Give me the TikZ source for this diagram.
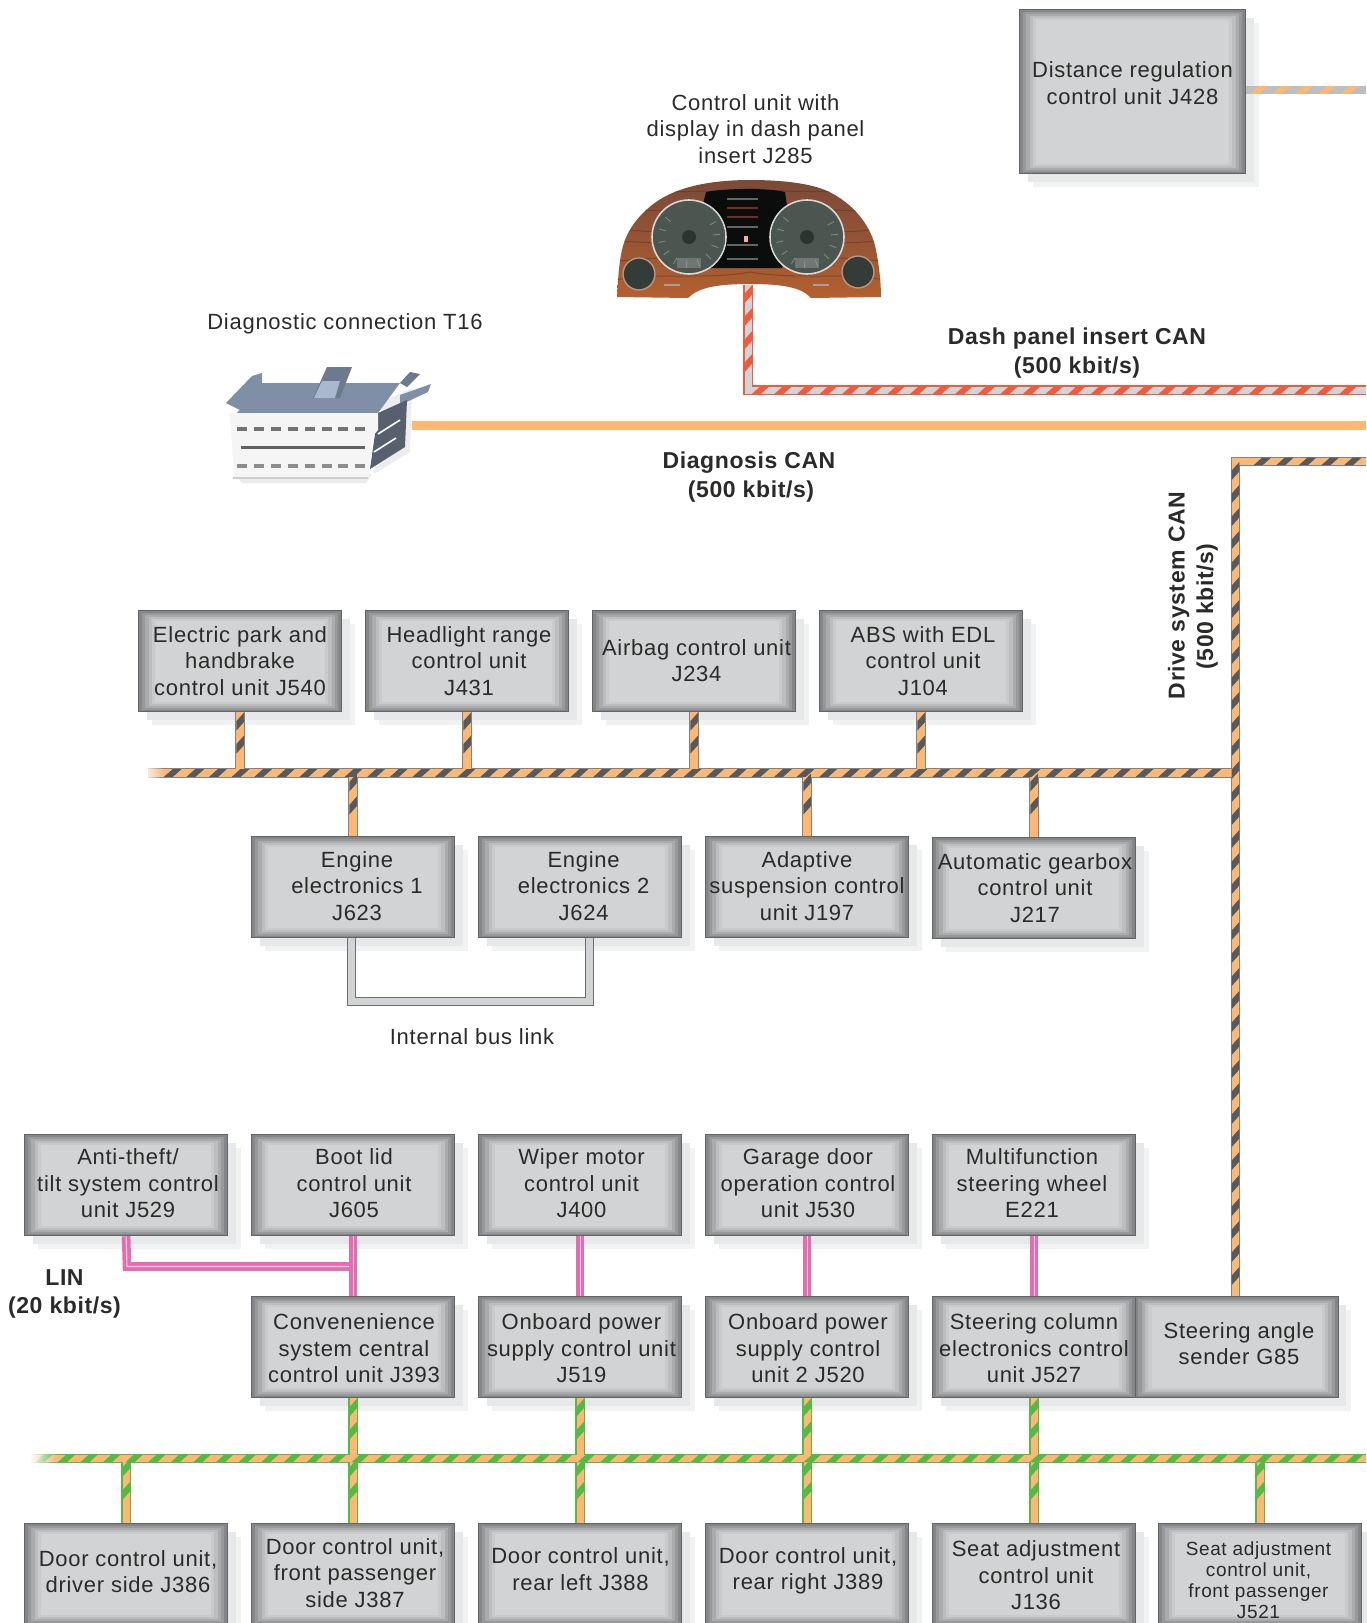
\documentclass[tikz,border=0pt]{standalone}
\usepackage{fontspec}
\setmainfont{Liberation Sans}
\newfontfamily\ufont[LetterSpace=3.3]{Liberation Sans}
\newfontfamily\bfontx[LetterSpace=2.6]{Liberation Sans Bold}
\usetikzlibrary{decorations.markings,fadings,calc}
\definecolor{bfill}{HTML}{D1D3D4}
\definecolor{bedge}{HTML}{636466}
\definecolor{bshadowa}{HTML}{F1F2F2}
\definecolor{bshadowb}{HTML}{E7E8EA}
\definecolor{beva}{HTML}{858689}
\definecolor{bevb}{HTML}{97999B}
\definecolor{bevc}{HTML}{A9ABAD}
\definecolor{bevd}{HTML}{BBBDBF}
\definecolor{beve}{HTML}{C8CACB}
\definecolor{busorange}{HTML}{FDB874}
\definecolor{busdark}{HTML}{58595B}
\definecolor{busedge}{HTML}{808285}
\definecolor{busgreen}{HTML}{56B947}
\definecolor{busred}{HTML}{F15A3C}
\definecolor{busgray}{HTML}{D1D3D4}
\definecolor{busgrayb}{HTML}{BCBEC0}
\definecolor{buspink}{HTML}{E26EB0}
\definecolor{txt}{HTML}{2B2A29}
\definecolor{wooda}{HTML}{7B4A38}
\definecolor{woodb}{HTML}{B5602F}
\definecolor{dialc}{HTML}{4A564F}
\definecolor{connblue}{HTML}{7E8FA6}
\definecolor{connlight}{HTML}{A9B8CC}
\definecolor{conndark}{HTML}{56606E}
\tikzset{
  ubox/.style={rectangle,draw=bedge,line width=1.2pt,fill=bfill,inner sep=0pt,anchor=north west,xshift=-1pt,
    minimum width=203pt,minimum height=101pt,
    preaction={fill=bshadowa,draw=none,transform canvas={shift={(13pt,-13pt)}}},
    preaction={fill=bshadowb,draw=none,transform canvas={shift={(8pt,-8pt)}}},
    path picture={
      \foreach \i/\c in {0/beva,1/bevb,2/bevc,3/bevd,4/beve,5/bfill}{
        \fill[\c]
          ([shift={(\i*3.3pt,\i*2pt)}]path picture bounding box.south west)
          rectangle ([shift={(-\i*3.3pt,-\i*2pt)}]path picture bounding box.north east);
      }
    }},
  utext/.style={align=center,text=txt,inner sep=0pt,font=\ufont\fontsize{22}{26.5}\selectfont},
  usmall/.style={align=center,text=txt,inner sep=0pt,font=\ufont\fontsize{19}{21}\selectfont},
  ubold/.style={align=center,text=txt,inner sep=0pt,font=\bfontx\fontsize{23}{28.5}\selectfont},
  redout/.style={draw=busred,line width=9.4pt,miter limit=10},
  redin/.style={draw=busgray,line width=7pt,miter limit=10},
  driveout/.style={draw=busedge,line width=9.4pt,miter limit=10},
  drivein/.style={draw=busorange,line width=7.4pt,miter limit=10},
  comfout/.style={draw=busgreen,line width=9.4pt,miter limit=10},
  comfin/.style={draw=busorange,line width=7pt,miter limit=10},
  hstripes/.style 2 args={decoration={markings,mark=between positions #2 and -12pt step 22.6pt with
     {\fill[#1] (0pt,-3.8pt)--(9pt,-3.8pt)--(17.5pt,3.8pt)--(8.5pt,3.8pt)--cycle;}},decorate},
  vstripes/.style={decoration={markings,mark=between positions 10pt and -10pt step 23pt with
     {\fill[#1] (-1pt,-3.8pt)--(8.5pt,-3.8pt)--(0pt,3.8pt)--(-9.5pt,3.8pt)--cycle;}},decorate},
  plainbus/.style={draw=busorange,line width=9pt},
  linout/.style={draw=buspink,line width=8.6pt},
  linin/.style={draw=buspink!35!white,line width=1.1pt},
  intedge/.style={draw=busedge!85!black,line width=9pt},
  intfill/.style={draw=busgray,line width=7pt},
}
\newcommand\ulabel[3]{\node[utext] at (#1,#2) {#3};}
\begin{document}
\begin{tikzpicture}[x=1pt,y=-1pt]
\useasboundingbox (0,0) rectangle (1366,1623);
% ---- units ----
\node[ubox,minimum width=226pt,minimum height=164pt] (j428) at (1020,9) {};
\node[ubox] (j540) at (139,610) {};
\node[ubox] (j431) at (366,610) {};
\node[ubox] (j234) at (593,610) {};
\node[ubox] (j104) at (820,610) {};
\node[ubox] (j623) at (252,836) {};
\node[ubox] (j624) at (479,836) {};
\node[ubox] (j197) at (706,836) {};
\node[ubox] (j217) at (933,837) {};
\node[ubox] (j529) at (25,1134) {};
\node[ubox] (j605) at (252,1134) {};
\node[ubox] (j400) at (479,1134) {};
\node[ubox] (j530) at (706,1134) {};
\node[ubox] (e221) at (933,1134) {};
\node[ubox] (j393) at (252,1296) {};
\node[ubox] (j519) at (479,1296) {};
\node[ubox] (j520) at (706,1296) {};
\node[ubox] (j527) at (933,1296) {};
\node[ubox] (g85) at (1135.5,1296) {};
\node[ubox] (j386) at (25,1523) {};
\node[ubox] (j387) at (252,1523) {};
\node[ubox] (j388) at (479,1523) {};
\node[ubox] (j389) at (706,1523) {};
\node[ubox] (j136) at (933,1523) {};
\node[ubox] (j521) at (1159,1523) {};
% ---- unit texts ----
\ulabel{1132.5}{83}{Distance regulation\\control unit J428}
\ulabel{240}{661}{Electric park and\\handbrake\\control unit J540}
\ulabel{469}{661}{Headlight range\\control unit\\J431}
\ulabel{696.5}{660.5}{Airbag control unit\\J234}
\ulabel{923}{661}{ABS with EDL\\control unit\\J104}
\ulabel{357}{886}{Engine\\electronics 1\\J623}
\ulabel{583.6}{886}{Engine\\electronics 2\\J624}
\ulabel{807}{886}{Adaptive\\suspension control\\unit J197}
\ulabel{1035}{888}{Automatic gearbox\\control unit\\J217}
\ulabel{128}{1183.5}{Anti-theft/\\tilt system control\\unit J529}
\ulabel{354}{1183.5}{Boot lid\\control unit\\J605}
\ulabel{581.5}{1183.5}{Wiper motor\\control unit\\J400}
\ulabel{808}{1183.5}{Garage door\\operation control\\unit J530}
\ulabel{1032}{1183.5}{Multifunction\\steering wheel\\E221}
\ulabel{354}{1348.5}{Convenenience\\system central\\control unit J393}
\ulabel{581.5}{1348.5}{Onboard power\\supply control unit\\J519}
\ulabel{808}{1348.5}{Onboard power\\supply control\\unit 2 J520}
\ulabel{1034}{1348.5}{Steering column\\electronics control\\unit J527}
\ulabel{1239}{1343.5}{Steering angle\\sender G85}
\ulabel{128}{1571.5}{Door control unit,\\driver side J386}
\ulabel{355}{1573}{Door control unit,\\front passenger\\side J387}
\ulabel{580.5}{1569}{Door control unit,\\rear left J388}
\ulabel{808}{1571}{Door control unit,\\rear right J389}
\ulabel{1036}{1575.5}{Seat adjustment\\control unit\\J136}
\node[usmall] at (1258.5,1580) {Seat adjustment\\control unit,\\front passenger\\J521};
% ---- free labels ----
\ulabel{755.5}{129}{Control unit with\\display in dash panel\\insert J285}
\ulabel{345}{323.5}{Diagnostic connection T16}
\ulabel{472}{1037}{Internal bus link}
\node[ubold] at (1077,353) {Dash panel insert CAN\\(500 kbit/s)};
\node[ubold] at (749,477) {Diagnosis CAN\\\hspace*{4pt}(500 kbit/s)};
\node[ubold,rotate=90] at (1193,595.5) {Drive system CAN\\(500 kbit/s)\hspace*{22pt}};
\node[ubold] at (64.5,1294) {LIN\\(20 kbit/s)};
% ---- instrument cluster ----
\coordinate (dash) at (748,285);
\path[top color=wooda,bottom color=woodb,middle color=wooda!55!woodb]
  (617,297) .. controls (618,280) and (619,262) .. (622,250)
  .. controls (627,225) and (650,200) .. (680,190)
  .. controls (705,181) and (735,180) .. (750,180)
  .. controls (775,180) and (805,182) .. (825,190)
  .. controls (855,203) and (872,228) .. (876,250)
  .. controls (879,265) and (881,282) .. (881,297)
  -- (811,298) .. controls (802,288) and (785,284) .. (750,284)
  .. controls (715,284) and (698,288) .. (688,298) -- cycle;
\begin{scope}
\clip (622,250) .. controls (627,225) and (650,200) .. (680,190)
  .. controls (705,181) and (735,180) .. (750,180)
  .. controls (775,180) and (805,182) .. (825,190)
  .. controls (855,203) and (872,228) .. (876,250) -- (881,284) -- (617,284) -- cycle;
\foreach \ya/\yb in {195/188,215/205,228/236,240/246,262/254,280/272}{
  \draw[wooda!60!black,opacity=.4,line width=1pt] (615,\ya) .. controls (660,\yb) and (710,\ya) .. (750,\yb);
  \draw[wooda!60!black,opacity=.4,line width=1pt] (750,\yb) .. controls (795,\ya) and (840,\yb) .. (885,\ya);}
\end{scope}
\fill[black!85!dialc] (706,192) .. controls (725,188) and (770,188) .. (785,192) -- (792,240) -- (782,268) -- (705,268) -- (694,240) -- cycle;
\foreach \yy/\cc in {199/busgray,208/busred,217/busred,227/busgray,245/busgray,259/busgray}
  \draw[\cc,opacity=.45,line width=1.2pt] (727,\yy) -- (758,\yy);
\fill[busred!50!white] (744,236) rectangle (748,242);
\foreach \gx in {689,807}{
  \fill[dialc] (\gx,237) circle[radius=36pt];
  \draw[busgray!90!white,line width=1.6pt] (\gx,237) circle[radius=37pt];
  \fill[dialc!60!black] (\gx,237) circle[radius=7pt];
  \foreach \ang in {-220,-195,...,40}
    \draw[busgray,opacity=.4,line width=.9pt] ($(\gx,237)+(\ang:24pt)$) -- ($(\gx,237)+(\ang:31pt)$);
  \fill[busgray!60!dialc,opacity=.45] (\gx-12,258) rectangle (\gx+12,268);
}
\foreach \gx/\gy in {639/274,858/272}{
  \fill[dialc!70!black] (\gx,\gy) circle[radius=15pt];
  \draw[busgray!60!wooda,line width=1.2pt] (\gx,\gy) circle[radius=16pt];
}
\foreach \gx in {672,821}
  \draw[busgray!60!wooda,line width=2pt] (\gx-8,285) -- (\gx+8,285);
% ---- diagnostic connector ----
\fill[black!8] (234,474) -- (372,474) -- (366,483) -- (242,483) -- cycle;
\fill[black!7] (382,402) -- (412,388) -- (410,452) -- (374,474) -- cycle;
\fill[connblue] (226,403) -- (252,376) -- (262,373) -- (262,385) -- (240,410) -- cycle;
\fill[connblue] (237,413) -- (262,383) -- (400,383) -- (378,413) -- cycle;
\fill[connblue!85!black] (313,398) -- (327,367) -- (352,367) -- (340,398) -- cycle;
\fill[connlight] (314,398) -- (322,381) -- (340,381) -- (335,398) -- cycle;
\fill[connblue!85!black] (400,383) -- (410,372) -- (420,374) -- (407,387) -- cycle;
\fill[connblue] (400,395) -- (431,384) -- (428,392) -- (400,405) -- cycle;
\fill[conndark] (378,413) -- (407,400) -- (405,447) -- (370,469) -- cycle;
\fill[black!4] (230,413) -- (378,413) -- (378,430) -- (372,437) -- (369,477) -- (234,477) -- cycle;
\draw[black!20,line width=1.4pt] (233,478) -- (368,478);
\foreach \px in {241.7,259.3,276,293.3,310,326.7,343.3,360}{
  \fill[black!55] (\px-5,427) rectangle (\px+5,431);
  \fill[black!45] (\px-5,464) rectangle (\px+5,468);
}
\draw[black!62,line width=3pt] (241,447) -- (365,447);
\draw[white,line width=1.6pt] (378,434) -- (400,420) (374,452) -- (396,438);
% ---- anchors of the buses ----
\coordinate (t16) at (412,425.5);
\coordinate (diagend) at (1366,425.5);
\coordinate (dcorner) at (748,390);
\coordinate (dend) at (1366,390);
\coordinate (j428end) at (1366,90);
\coordinate (j428start) at (j428.east |- j428end);
\coordinate (drivetop) at (1235.5,461.5);
\coordinate (drivetopend) at (1366,461.5);
\coordinate (drivebusleft) at (148,773);
\coordinate (drivebusright) at (1235.5,773);
\coordinate (comfleft) at (31,1458.5);
\coordinate (comfright) at (1366,1458.5);
\coordinate (gbase) at (1235.5,1296);
\coordinate (lincorner) at (127,1266.5);
\coordinate (intleft) at (351.5,1001);
\coordinate (intright) at (589.5,1001);
% ---- diagnosis CAN ----
\draw[plainbus] (t16) -- (diagend);
% ---- distance regulation link ----
\draw[draw=busgrayb,line width=8.6pt] (j428start) -- (j428end);
\path[hstripes={busorange}{4pt}] (j428start) -- (j428end);
% ---- dash panel CAN ----
\draw[redout] (dash) -- (dcorner) -- (dend);
\draw[redin] (dash) -- (dcorner) -- (dend);
\path[vstripes=busred] (dash) -- (dcorner);
\path[hstripes={busred}{4pt}] (dcorner) -- (dend);
% ---- drive system CAN ----
\foreach \st in {driveout,drivein}{
  \draw[\st] (drivebusleft) -- (drivebusright);
  \draw[\st] (gbase) -- (drivetop) -- (drivetopend);
  \foreach \n in {j540,j431,j234,j104}
    \draw[\st] (\n.south) -- (\n.south |- drivebusleft);
  \foreach \n in {j623,j197,j217}
    \draw[\st] (\n.north) -- (\n.north |- drivebusleft);
}
\path[hstripes={busdark}{16pt}] (drivebusleft) -- (drivebusright);
\path[hstripes={busdark}{18pt}] (drivetop) -- (drivetopend);
\path[vstripes=busdark] (drivetop) -- (gbase);
\foreach \n in {j540,j431,j234,j104}
  \path[vstripes=busdark] (\n.south) -- (\n.south |- drivebusleft);
\foreach \n in {j623,j197,j217}
  \path[vstripes=busdark] (\n.north |- drivebusleft) -- (\n.north);
\fill[white,fill opacity=.8,path fading=east] (146,767) rectangle (164,779);
% ---- internal bus link ----
\draw[intedge] (j623.south -| intleft) -- (intleft) -- (intright) -- (j624.south -| intright);
\draw[intfill] (j623.south -| intleft) -- (intleft) -- (intright) -- (j624.south -| intright);
% ---- LIN ----
\draw[linout] (j529.south) -- (lincorner) -- (lincorner -| j605.south);
\foreach \a/\b in {j605/j393,j400/j519,j530/j520,e221/j527}
  \draw[linout] (\a.south) -- (\b.north);
\draw[linin] (j529.south) -- (lincorner) -- ($(lincorner -| j605.south)+(-4,0)$);
\foreach \a/\b in {j605/j393,j400/j519,j530/j520,e221/j527}
  \draw[linin] (\a.south) -- (\b.north);
% ---- convenience CAN ----
\foreach \st in {comfout,comfin}{
  \draw[\st] (comfleft) -- (comfright);
  \foreach \a/\b in {j393/j387,j519/j388,j520/j389,j527/j136}
    \draw[\st] (\a.south) -- (\b.north);
  \foreach \n in {j386,j521}
    \draw[\st] (\n.north) -- (\n.north |- comfleft);
}
\path[hstripes={busgreen}{4pt}] (comfleft) -- (comfright);
\foreach \a/\b in {j393/j387,j519/j388,j520/j389,j527/j136}{
  \path[vstripes=busgreen] (\a.south) -- (\a.south |- comfleft);
  \path[vstripes=busgreen] (\b.north |- comfleft) -- (\b.north);
}
\foreach \n in {j386,j521}
  \path[vstripes=busgreen] (\n.north |- comfleft) -- (\n.north);
\fill[white,path fading=east] (29,1452) rectangle (58,1465);
\end{tikzpicture}
\end{document}
